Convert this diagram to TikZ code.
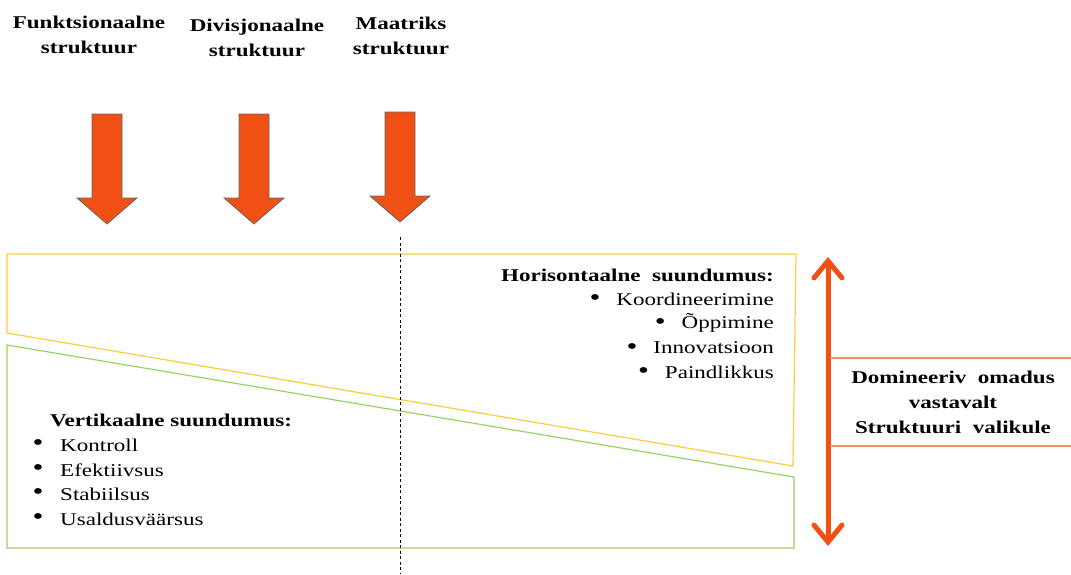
\documentclass[tikz,border=0pt]{standalone}
\usepackage{fontspec}
\setmainfont{Liberation Serif}[FakeStretch=1.28]
\usetikzlibrary{arrows.meta}
\definecolor{arroworange}{RGB}{240,80,20}
\definecolor{frameyellow}{RGB}{252,205,60}
\definecolor{framegreen}{RGB}{155,208,100}
\definecolor{rulesalmon}{RGB}{248,140,105}
\newcommand{\bigbullet}{\raisebox{-0.5pt}{\scalebox{1.35}{\textbullet}}}

\begin{document}
\begin{tikzpicture}[x=1pt,y=-1pt,
  title/.style={font=\fontsize{18}{25}\selectfont\bfseries, align=center, inner sep=0pt},
  headtext/.style={font=\fontsize{18}{22}\selectfont\bfseries, inner sep=0pt},
  itemtext/.style={font=\fontsize{18}{22}\selectfont, inner sep=0pt},
  blockarrow/.pic={
    \draw[fill=arroworange, draw=black!60, line width=0.8pt]
      (-15,-110) -- (15,-110) -- (15,-26) -- (30,-26) -- (0,0)
      -- (-30,-26) -- (-15,-26) -- cycle;}
]
\useasboundingbox (0,0) rectangle (1071,574);

% structure titles
\node[title] (tfun) at (89,35) {Funktsionaalne\\struktuur};
\node[title] (tdiv) at (257,38) {Divisjonaalne\\struktuur};
\node[title] (tmat) at (401,36) {Maatriks\\struktuur};

% downward block arrows
\pic at (107,224) {blockarrow};
\pic at (254,224) {blockarrow};
\pic at (400,222) {blockarrow};

% horizontal (yellow) and vertical (green) regions
\draw[frameyellow, line width=1.2pt] (7,254) -- (796,254) -- (793,466) -- (7,333) -- cycle;
\draw[framegreen, line width=1.2pt] (7,345) -- (794,477) -- (794,548) -- (7,548) -- cycle;

% matrix divider
\coordinate (dtop) at (400,237);
\coordinate (dbot) at (400,574);
\draw[dashed, dash pattern=on 3pt off 2.5pt, line width=0.8pt] (dtop) -- (dbot);

% horizontal orientation
\node[headtext, anchor=east] (hhead) at (774,275) {Horisontaalne \ suundumus:};
\node[itemtext, anchor=east] (h1) at (774,299) {\bigbullet\hspace{16pt}Koordineerimine};
\node[itemtext, anchor=east] (h2) at (774,323) {\bigbullet\hspace{16pt}Õppimine};
\node[itemtext, anchor=east] (h3) at (774,348) {\bigbullet\hspace{16pt}Innovatsioon};
\node[itemtext, anchor=east] (h4) at (774,372) {\bigbullet\hspace{16pt}Paindlikkus};

% vertical orientation
\node[headtext, anchor=west] (vhead) at (50,420) {Vertikaalne suundumus:};
\foreach \y/\w [count=\i] in {445/Kontroll, 470/Efektiivsus, 494/Stabiilsus, 519/Usaldusväärsus}{
  \node[itemtext] (vb\i) at (38,\y) {\bigbullet};
  \node[itemtext, anchor=west] (v\i) at (60,\y) {\w};
}

% dominance double arrow
\coordinate (atop) at (828,257);
\coordinate (abot) at (828,546);
\draw[arroworange, line width=5pt,
  {Straight Barb[length=17pt,width=28pt,line cap=round]}-{Straight Barb[length=17pt,width=28pt,line cap=round]}]
  (atop) -- (abot);

% label band
\coordinate (r1a) at (830,358);
\coordinate (r1b) at (1071,358);
\coordinate (r2a) at (830,446);
\coordinate (r2b) at (1071,446);
\draw[rulesalmon, line width=1.2pt] (r1a) -- (r1b);
\draw[rulesalmon, line width=1.2pt] (r2a) -- (r2b);
\node[title] (dom) at (953,402) {Domineeriv \ omadus\\vastavalt\\Struktuuri \ valikule};
\end{tikzpicture}
\end{document}
